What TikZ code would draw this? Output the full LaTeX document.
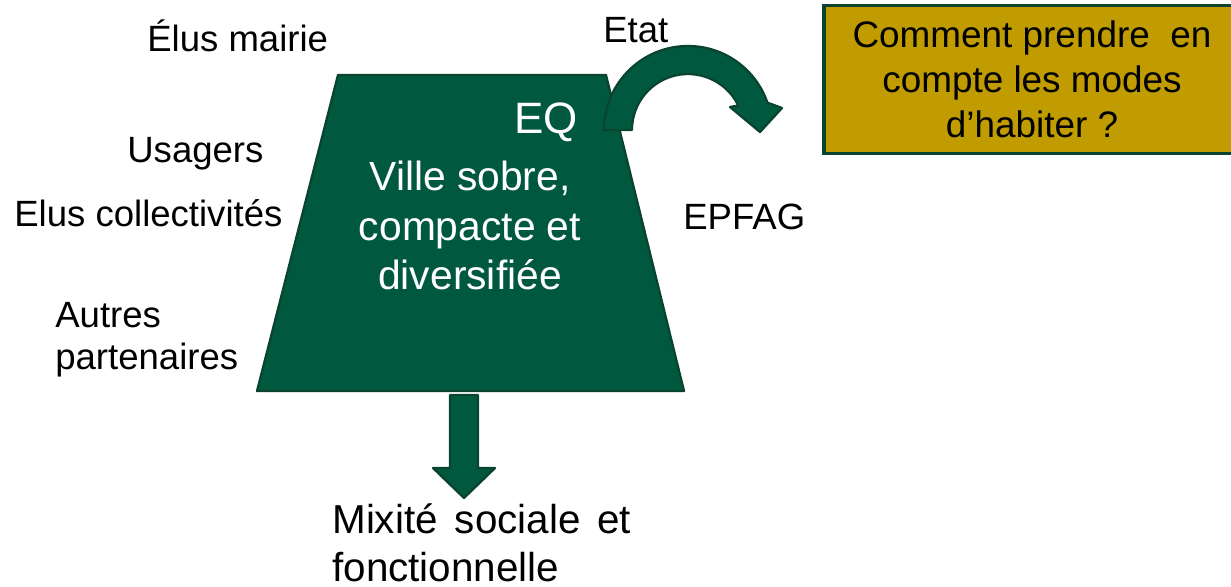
\documentclass[tikz,border=0pt]{standalone}
\usepackage{fontspec}
\setmainfont{Liberation Sans}
\usepackage{tikz}
\usetikzlibrary{positioning}
\definecolor{eqgreen}{RGB}{0,89,62}
\definecolor{eqedge}{RGB}{10,68,46}
\definecolor{eqgold}{RGB}{192,156,0}

\begin{document}
\begin{tikzpicture}[x=0.02cm, y=0.02cm,
	lbl/.style={anchor=base west, align=left, inner sep=0pt, font=\fontsize{20.8pt}{24.4pt}\selectfont},
	greenpart/.style={fill=eqgreen, draw=eqedge, line width=1.3pt, line join=round}]
			\useasboundingbox (0,0) rectangle (1231,-587);
			\clip (0,0) rectangle (1231,-587);
			\draw [greenpart] (338,-75) -- (606,-75) -- (684,-391) -- (257,-391) -- cycle;
			\draw [greenpart] (604,-130) arc (180:19:84) -- (782,-108) -- (760,-132) -- (730,-107) -- (738.3,-105.5) arc (26:180:56) -- cycle;
			\draw [greenpart] (450,-395) -- (478,-395) -- (478,-468) -- (495,-468) -- (464,-498) -- (433,-468) -- (450,-468) -- cycle;
			\node [lbl] (mairie) at (147,-52) {Élus mairie};
			\node [lbl] (usagers) at (127,-163) {Usagers};
			\node [lbl] (collect) at (14,-227) {Elus collectivités};
			\node [lbl] (autres) at (55,-370) {Autres\\partenaires};
			\node [lbl] (etat) at (603,-43) {Etat};
			\node [lbl] (epfag) at (683,-230) {EPFAG};
			\node [anchor=base, inner sep=0pt, text=white, font=\fontsize{25pt}{30pt}\selectfont] (eq) at (546,-134) {EQ};
			\node [anchor=base, align=center, inner sep=0pt, text=white, font=\fontsize{23.2pt}{28.3pt}\selectfont] (ville) at (470,-290) {Ville sobre,\\compacte et\\diversifiée};
			\node [lbl, font=\fontsize{23pt}{27.8pt}\selectfont] (mixite) at (332,-582) {Mixité\hspace{0.42em}sociale\hspace{0.42em}et\\fonctionnelle};
			\node [draw=eqedge, fill=eqgold, line width=1.8pt, align=center, inner sep=0pt, minimum width=8.32cm, minimum height=2.96cm, font=\fontsize{21pt}{25.5pt}\selectfont] (question) at (1032,-79.5) {Comment prendre~ en\\compte les modes\\d’habiter ?};
\end{tikzpicture}
\end{document}
